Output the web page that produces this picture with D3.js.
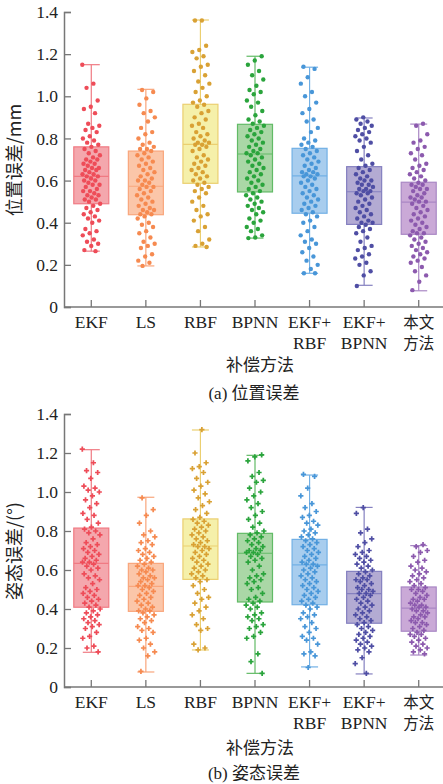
<!DOCTYPE html>
<html>
<head>
<meta charset="utf-8">
<script src="https://cdn.jsdelivr.net/npm/d3@7"></script>
<style>
  body { margin: 0; background: #fff; }
  text { fill: #222; }
</style>
</head>
<body>
<svg id="chart" width="443" height="784"></svg>
<script>
// categories
var methods = ["EKF", "LS", "RBF", "BPNN", "EKF+|RBF", "EKF+|BPNN", "本文|方法"];
var yTicks = [0, 0.2, 0.4, 0.6, 0.8, 1.0, 1.2, 1.4];

// colours per method
var pointColors = ["#ee4c58", "#f68a50", "#d9a134", "#2aa43c", "#4896d8", "#4f4ea4", "#8c5aae"];
var boxFills    = ["#f4a7ad", "#fbc6a9", "#f5f0aa", "#aad7a6", "#a8cdee", "#b3abd3", "#caa9d7"];
var boxStrokes  = ["#f07a83", "#f9a67c", "#ebcf70", "#62bb66", "#72b0e5", "#8580c0", "#a987c4"];

// (a) position error: box stats
var posMin = [0.265, 0.195, 0.285, 0.327, 0.16, 0.103, 0.077];
var posQ1  = [0.49, 0.438, 0.587, 0.546, 0.445, 0.392, 0.345];
var posMed = [0.62, 0.573, 0.772, 0.726, 0.622, 0.547, 0.498];
var posQ3  = [0.76, 0.74, 0.962, 0.867, 0.753, 0.666, 0.592];
var posMax = [1.15, 1.033, 1.362, 1.19, 1.138, 0.897, 0.868];

var posEKF = [1.15,1.06,1.04,0.98,0.95,0.94,0.92,0.87,0.86,0.85,0.84,0.83,0.81,0.80,0.79,0.78,0.77,
  0.76,0.75,0.74,0.73,0.72,0.71,0.70,0.70,0.69,0.68,0.68,0.67,0.66,0.66,0.65,0.65,0.64,0.63,0.63,0.62,
  0.62,0.61,0.60,0.60,0.59,0.58,0.58,0.57,0.56,0.55,0.55,0.54,0.53,0.53,0.52,0.51,0.51,0.50,0.49,
  0.48,0.47,0.46,0.45,0.44,0.43,0.42,0.41,0.40,0.37,0.36,0.35,0.34,0.32,0.31,0.30,0.29,0.27,0.265];
var posLS = [1.03,1.02,0.99,0.96,0.93,0.92,0.90,0.88,0.85,0.83,0.82,0.80,0.78,0.77,0.76,0.75,0.75,
  0.74,0.73,0.72,0.71,0.70,0.69,0.68,0.67,0.66,0.65,0.64,0.63,0.62,0.61,0.60,0.60,0.59,0.58,0.57,
  0.57,0.56,0.55,0.54,0.53,0.52,0.51,0.50,0.49,0.48,0.47,0.46,0.46,0.45,0.44,0.44,
  0.43,0.42,0.40,0.39,0.38,0.36,0.35,0.33,0.31,0.30,0.29,0.28,0.25,0.24,0.22,0.21,0.195];
var posRBF = [1.36,1.36,1.24,1.22,1.21,1.19,1.18,1.15,1.14,1.12,1.10,1.07,1.06,1.04,1.02,1.00,0.98,0.97,
  0.96,0.95,0.93,0.92,0.90,0.89,0.87,0.86,0.85,0.83,0.82,0.81,0.80,0.79,0.78,0.78,0.77,
  0.77,0.76,0.75,0.74,0.72,0.71,0.70,0.69,0.68,0.67,0.66,0.65,0.64,0.63,0.62,0.61,0.60,0.59,
  0.58,0.57,0.56,0.55,0.54,0.52,0.50,0.48,0.46,0.44,0.43,0.41,0.38,0.36,0.32,0.30,0.29,0.285];
var posBPNN = [1.19,1.17,1.15,1.12,1.10,1.08,1.05,1.03,1.02,1.01,0.98,0.97,0.95,0.93,0.91,0.89,0.88,
  0.87,0.86,0.85,0.84,0.83,0.82,0.81,0.80,0.79,0.78,0.77,0.76,0.75,0.74,0.73,0.73,
  0.72,0.71,0.70,0.69,0.68,0.67,0.66,0.65,0.64,0.63,0.62,0.61,0.60,0.59,0.58,0.57,0.56,0.55,
  0.54,0.53,0.52,0.51,0.50,0.49,0.48,0.47,0.46,0.45,0.44,0.42,0.41,0.40,0.38,0.37,0.36,0.34,0.33,0.327];
var posEkfRbf = [1.14,1.13,1.09,1.06,1.02,1.00,0.97,0.94,0.92,0.89,0.88,0.85,0.83,0.80,0.79,0.78,0.77,0.76,
  0.75,0.74,0.73,0.72,0.71,0.70,0.69,0.68,0.67,0.66,0.65,0.64,0.64,0.63,0.63,0.62,
  0.62,0.61,0.60,0.59,0.58,0.57,0.56,0.55,0.54,0.53,0.52,0.51,0.50,0.49,0.48,0.47,0.46,0.45,
  0.44,0.43,0.41,0.40,0.38,0.36,0.34,0.32,0.31,0.30,0.28,0.26,0.24,0.22,0.20,0.18,0.16,0.16];
var posEkfBpnn = [0.90,0.89,0.88,0.87,0.86,0.85,0.84,0.83,0.82,0.81,0.80,0.79,0.78,0.76,0.74,0.72,0.70,0.68,0.67,
  0.66,0.65,0.64,0.63,0.62,0.61,0.60,0.60,0.59,0.58,0.58,0.57,0.56,0.56,0.55,0.55,
  0.54,0.54,0.53,0.52,0.51,0.50,0.49,0.48,0.47,0.46,0.45,0.44,0.43,0.42,0.41,0.40,0.40,
  0.39,0.38,0.37,0.36,0.35,0.33,0.31,0.29,0.28,0.27,0.25,0.24,0.23,0.21,0.20,0.17,0.15,0.10];
var posOurs = [0.87,0.86,0.82,0.79,0.78,0.76,0.75,0.73,0.72,0.70,0.68,0.67,0.66,0.65,0.64,0.63,0.62,0.61,0.60,
  0.59,0.58,0.58,0.57,0.56,0.56,0.55,0.54,0.53,0.52,0.52,0.51,0.50,0.50,
  0.49,0.48,0.47,0.46,0.45,0.44,0.43,0.42,0.41,0.40,0.39,0.38,0.37,0.36,0.35,0.35,
  0.34,0.33,0.32,0.31,0.30,0.29,0.28,0.27,0.26,0.25,0.24,0.23,0.22,0.21,0.19,0.17,0.15,0.12,0.08];

// (b) attitude error
var attMin = [0.178, 0.077, 0.19, 0.07, 0.103, 0.067, 0.164];
var attQ1  = [0.409, 0.388, 0.552, 0.436, 0.422, 0.327, 0.286];
var attMed = [0.634, 0.516, 0.723, 0.686, 0.626, 0.479, 0.405];
var attQ3  = [0.815, 0.634, 0.862, 0.788, 0.757, 0.593, 0.513];
var attMax = [1.217, 0.973, 1.318, 1.188, 1.087, 0.921, 0.725];

var attEKF = [1.22,1.15,1.11,1.10,1.07,1.03,1.02,1.01,1.00,0.98,0.96,0.94,0.92,0.89,0.88,0.86,0.84,0.82,
  0.81,0.80,0.79,0.78,0.76,0.74,0.73,0.72,0.71,0.70,0.69,0.68,0.67,0.66,0.65,0.64,0.64,
  0.63,0.62,0.61,0.60,0.58,0.57,0.56,0.55,0.53,0.51,0.50,0.49,0.48,0.47,0.46,0.45,0.44,0.43,0.42,0.41,
  0.40,0.39,0.38,0.37,0.36,0.35,0.34,0.33,0.32,0.31,0.30,0.28,0.26,0.25,0.21,0.20,0.18];
var attLS = [0.97,0.91,0.88,0.84,0.80,0.78,0.77,0.75,0.74,0.73,0.71,0.70,0.69,0.68,0.67,0.66,0.65,0.64,
  0.63,0.62,0.61,0.60,0.60,0.59,0.58,0.57,0.56,0.56,0.55,0.54,0.53,0.52,0.52,
  0.51,0.50,0.49,0.48,0.47,0.46,0.45,0.44,0.43,0.42,0.41,0.40,0.39,0.39,
  0.38,0.37,0.36,0.35,0.34,0.33,0.31,0.30,0.29,0.28,0.25,0.24,0.22,0.20,0.18,0.16,0.08];
var attRBF = [1.32,1.20,1.15,1.13,1.12,1.10,1.07,1.05,1.03,1.01,0.99,0.97,0.95,0.93,0.91,0.89,0.87,
  0.86,0.85,0.84,0.83,0.82,0.81,0.80,0.79,0.78,0.77,0.76,0.75,0.74,0.73,0.72,0.72,
  0.71,0.70,0.69,0.68,0.67,0.66,0.65,0.64,0.63,0.62,0.61,0.60,0.59,0.58,0.57,0.56,0.55,
  0.54,0.52,0.50,0.48,0.46,0.45,0.43,0.41,0.39,0.37,0.35,0.32,0.30,0.29,0.22,0.20,0.19];
var attBPNN = [1.19,1.18,1.16,1.10,1.08,1.06,1.05,1.02,1.00,0.98,0.96,0.94,0.92,0.90,0.88,0.86,0.84,0.82,0.80,
  0.79,0.78,0.77,0.76,0.75,0.74,0.73,0.72,0.71,0.70,0.70,0.69,0.69,
  0.68,0.67,0.66,0.65,0.64,0.62,0.60,0.58,0.57,0.56,0.55,0.54,0.53,0.51,0.50,0.48,0.46,0.45,0.44,
  0.43,0.42,0.41,0.40,0.38,0.37,0.36,0.35,0.34,0.32,0.31,0.30,0.28,0.26,0.25,0.17,0.13,0.07];
var attEkfRbf = [1.09,1.08,1.02,0.98,0.94,0.92,0.90,0.88,0.87,0.85,0.84,0.83,0.81,0.80,0.79,0.78,0.77,0.76,
  0.75,0.74,0.73,0.72,0.71,0.70,0.69,0.68,0.67,0.66,0.65,0.64,0.63,0.63,
  0.62,0.61,0.60,0.59,0.58,0.57,0.56,0.55,0.54,0.53,0.52,0.51,0.50,0.49,0.48,0.47,0.46,0.45,0.44,0.43,
  0.42,0.41,0.40,0.38,0.37,0.36,0.35,0.33,0.31,0.30,0.28,0.26,0.25,0.24,0.22,0.18,0.17,0.16,0.10];
var attEkfBpnn = [0.92,0.89,0.81,0.79,0.76,0.74,0.72,0.70,0.69,0.68,0.67,0.66,0.65,0.64,0.63,0.62,0.61,0.60,
  0.59,0.58,0.57,0.56,0.55,0.55,0.54,0.53,0.52,0.51,0.50,0.50,0.49,0.48,
  0.48,0.47,0.46,0.45,0.44,0.43,0.42,0.41,0.40,0.39,0.38,0.37,0.36,0.35,0.34,0.33,
  0.32,0.31,0.30,0.29,0.28,0.27,0.26,0.25,0.24,0.23,0.22,0.21,0.20,0.19,0.18,0.15,0.12,0.07];
var attOurs = [0.73,0.72,0.70,0.69,0.67,0.65,0.64,0.62,0.61,0.60,0.59,0.58,0.57,0.56,0.55,0.54,0.53,0.52,
  0.51,0.50,0.50,0.49,0.48,0.47,0.46,0.45,0.45,0.44,0.43,0.42,0.42,0.41,0.41,
  0.40,0.39,0.39,0.38,0.37,0.36,0.36,0.35,0.34,0.33,0.33,0.32,0.31,0.30,0.29,
  0.28,0.27,0.27,0.26,0.25,0.24,0.23,0.22,0.21,0.20,0.19,0.18,0.17];

var svg = d3.select("#chart");
var latin = "'Liberation Serif', 'Times New Roman', serif";
var cjk = "'Noto Sans CJK SC', sans-serif";

var x = d3.scaleBand()
    .domain(methods)
    .range([64, 446])
    .paddingInner(0)
    .paddingOuter(0);

function drawPanel(opt) {
  var y = d3.scaleLinear().domain([0, 1.4]).range([opt.bottom, opt.top]);
  var g = svg.append("g");

  methods.forEach(function(m, k) {
    var cx = x(m) + x.bandwidth() / 2;
    var col = pointColors[k];

    // whisker
    g.append("line")
      .attr("x1", cx).attr("x2", cx)
      .attr("y1", y(opt.min[k])).attr("y2", y(opt.max[k]))
      .attr("stroke", boxStrokes[k]).attr("stroke-width", 1.2);
    [opt.min[k], opt.max[k]].forEach(function(v) {
      g.append("line")
        .attr("x1", cx - 8.5).attr("x2", cx + 8.5)
        .attr("y1", y(v)).attr("y2", y(v))
        .attr("stroke", boxStrokes[k]).attr("stroke-width", 1.2);
    });

    // box
    g.append("rect")
      .attr("x", cx - 17.5).attr("width", 35)
      .attr("y", y(opt.q3[k]))
      .attr("height", y(opt.q1[k]) - y(opt.q3[k]))
      .attr("fill", boxFills[k])
      .attr("stroke", boxStrokes[k]).attr("stroke-width", 1.2);
    g.append("line")
      .attr("x1", cx - 17.5).attr("x2", cx + 17.5)
      .attr("y1", y(opt.med[k])).attr("y2", y(opt.med[k]))
      .attr("stroke", boxStrokes[k]).attr("stroke-width", 1.2);

    // jittered points
    var pts = opt.points[k];
    var pg = g.append("g").attr("fill", col);
    pts.forEach(function(v, i) {
      var jit = (((i * 0.6180339887 + k * 0.29) % 1) - 0.5) * 18;
      if (opt.cross) {
        pg.append("path")
          .attr("d", d3.symbol().type(d3.symbolCross).size(15)())
          .attr("transform", "translate(" + (cx + jit) + "," + y(v) + ")");
      } else {
        pg.append("circle")
          .attr("cx", cx + jit).attr("cy", y(v)).attr("r", 2.2);
      }
    });
  });

  // y axis
  var yAxis = d3.axisLeft(y).tickValues(yTicks).tickSize(-7).tickPadding(6)
    .tickFormat(function(d) { return d === 0 ? "0" : d3.format(".1f")(d); });
  var ya = svg.append("g").attr("transform", "translate(64,0)").call(yAxis);
  ya.select(".domain").attr("stroke", "#777").attr("stroke-width", 1.5);
  ya.selectAll(".tick line").attr("stroke", "#777").attr("stroke-width", 1.3);
  ya.selectAll(".tick text").attr("font-family", latin).attr("font-size", 17.5).attr("fill", "#222")
    .attr("x", -6);

  // x axis
  svg.append("line")
    .attr("x1", 64).attr("x2", 446)
    .attr("y1", opt.bottom).attr("y2", opt.bottom)
    .attr("stroke", "#777").attr("stroke-width", 1.5);
  methods.forEach(function(m) {
    var cx = x(m) + x.bandwidth() / 2;
    svg.append("line")
      .attr("x1", cx).attr("x2", cx)
      .attr("y1", opt.bottom).attr("y2", opt.bottom - 7)
      .attr("stroke", "#777").attr("stroke-width", 1.3);
    var parts = m.split("|");
    var isCjk = /[\u4e00-\u9fff]/.test(m);
    var t = svg.append("text")
      .attr("text-anchor", "middle")
      .attr("font-family", isCjk ? cjk : latin)
      .attr("font-size", isCjk ? 15.5 : 17.5);
    parts.forEach(function(p, j) {
      t.append("tspan")
        .attr("x", cx)
        .attr("y", opt.bottom + 21 + j * 21)
        .text(p);
    });
  });

  // axis titles
  svg.append("text")
    .attr("text-anchor", "middle")
    .attr("transform", "translate(21," + opt.ylabelY + ") rotate(-90)")
    .attr("font-size", 18)
    .attr("font-family", cjk)
    .text(opt.ylabel);

  svg.append("text")
    .attr("x", 260).attr("y", opt.bottom + opt.titleOffset)
    .attr("text-anchor", "middle")
    .attr("font-size", 17)
    .attr("font-family", cjk)
    .text("补偿方法");

  var cap = svg.append("text")
    .attr("x", 254).attr("y", opt.bottom + opt.capOffset)
    .attr("text-anchor", "middle")
    .attr("font-size", 17);
  cap.append("tspan").attr("font-family", latin).text(opt.capTag + " ");
  cap.append("tspan").attr("font-family", cjk).text(opt.capText);
}

drawPanel({
  top: 12, bottom: 307,
  min: posMin, q1: posQ1, med: posMed, q3: posQ3, max: posMax,
  points: [posEKF, posLS, posRBF, posBPNN, posEkfRbf, posEkfBpnn, posOurs],
  cross: false,
  ylabel: "位置误差/mm", ylabelY: 160,
  capTag: "(a)", capText: "位置误差", titleOffset: 64, capOffset: 92
});

drawPanel({
  top: 414, bottom: 687,
  min: attMin, q1: attQ1, med: attMed, q3: attQ3, max: attMax,
  points: [attEKF, attLS, attRBF, attBPNN, attEkfRbf, attEkfBpnn, attOurs],
  cross: true,
  ylabel: "姿态误差/(°)", ylabelY: 551,
  capTag: "(b)", capText: "姿态误差", titleOffset: 67, capOffset: 92
});
</script>
</body>
</html>
